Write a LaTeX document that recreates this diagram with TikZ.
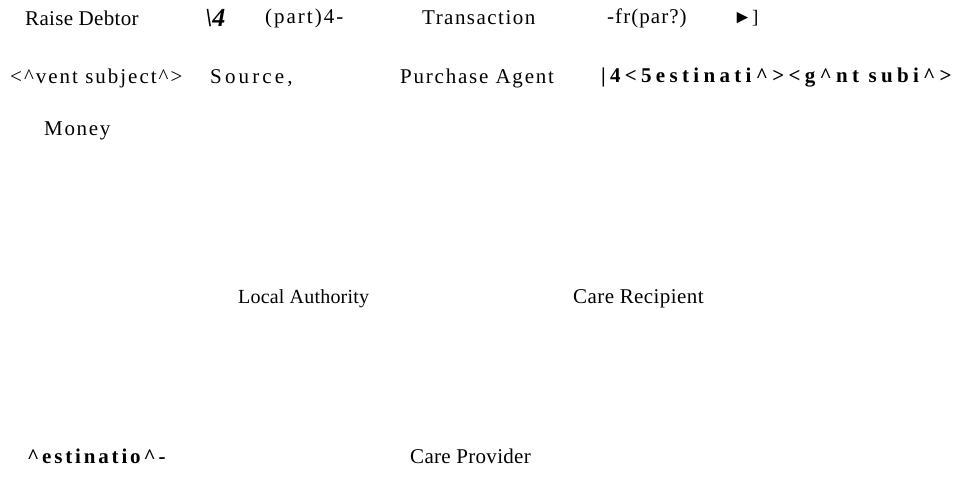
\documentclass[tikz,border=0pt]{standalone}
\usepackage{fontspec}
\setmainfont{Liberation Serif}
\newcommand{\ca}{\textasciicircum}
\newcommand{\lsp}[1]{\addfontfeatures{LetterSpace=#1}}
\begin{document}
\begin{tikzpicture}[x=1pt,y=-1pt,
  lbl/.style={anchor=west,inner sep=0pt,font=\fontsize{21}{24}\selectfont},
  bd/.style={lbl,font=\fontsize{21}{24}\selectfont\bfseries}]
\useasboundingbox (0,0) rectangle (958,490);
\node[lbl] (t1) at (25,18) {\lsp{1.5}Raise Debtor};
\node[lbl] (t2) at (205,18) {\fontsize{26}{28}\selectfont\bfseries\itshape\textbackslash4};
\node[lbl] (t3) at (265,18) {\lsp{9.5}(part)4-};
\node[lbl] (t4) at (422,18) {\lsp{7}Transaction};
\node[lbl] (t5) at (607,18) {\lsp{5}-fr(par?)};
\node[lbl] (t6) at (733,18) {\fontsize{19}{22}\selectfont ►]};
\node[lbl] (s1) at (10,78) {\lsp{9.5}<\ca vent subject\ca>};
\node[lbl] (s2) at (210,78) {\lsp{15}Source,};
\node[lbl] (s3) at (400,78) {\lsp{8.5}Purchase Agent};
\node[bd] (s4) at (601,78) {\lsp{20.5}|4<5estinati\ca><g\ca nt subi\ca>};
\node[lbl] (m) at (44,131) {\lsp{8}Money};
\node[lbl] (la) at (238,299) {\fontsize{20}{24}\selectfont\lsp{1}Local Authority};
\node[lbl] (cr) at (573,299) {\lsp{2}Care Recipient};
\node[bd] (d) at (27,456) {\lsp{13.5}\ca estinatio\ca-};
\node[lbl] (cp) at (410,456) {\lsp{1.5}Care Provider};
\end{tikzpicture}
\end{document}
